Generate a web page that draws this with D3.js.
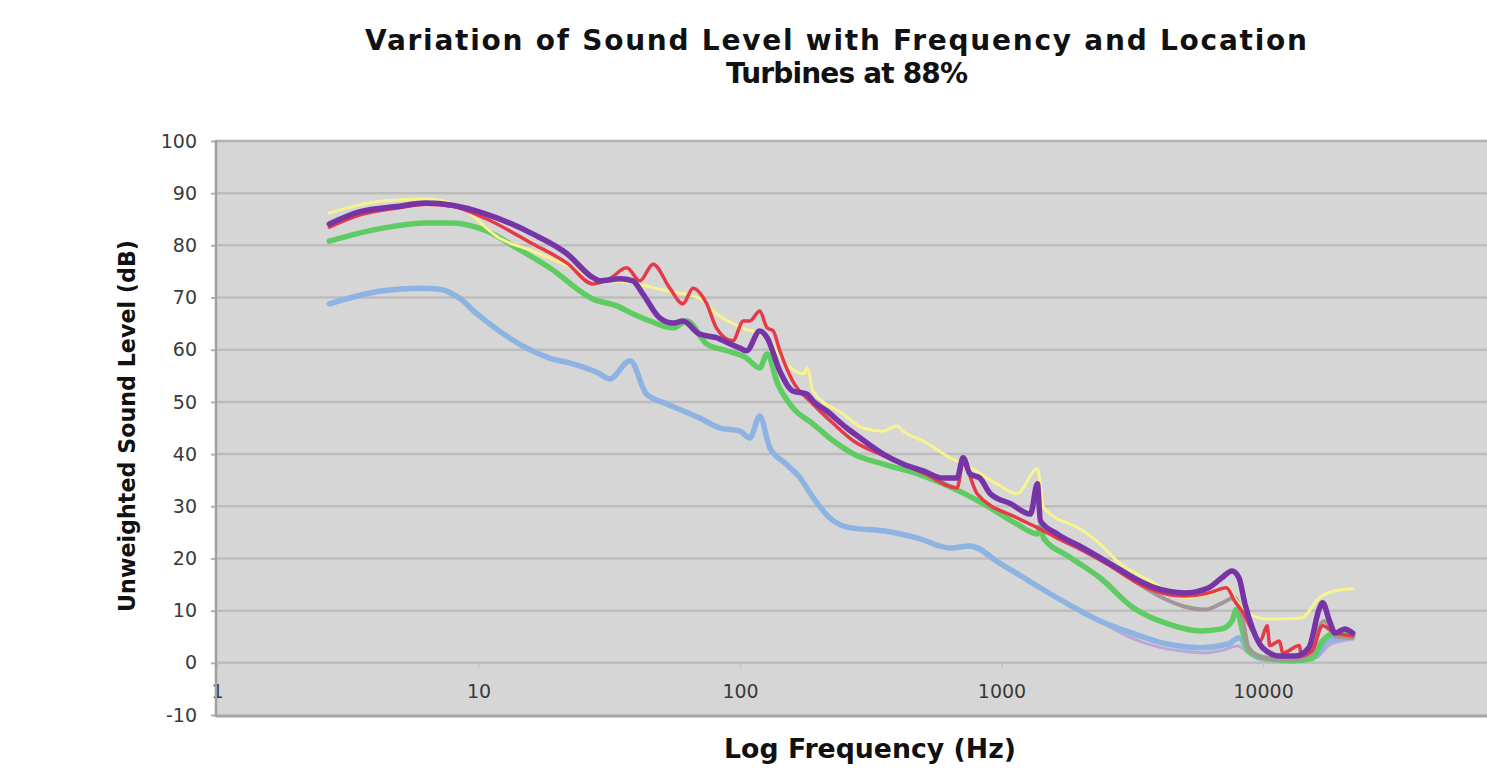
<!DOCTYPE html>
<html><head><meta charset="utf-8">
<script src="https://cdn.jsdelivr.net/npm/d3@7"></script>
<style>html,body{margin:0;padding:0;background:#fff;overflow:hidden}</style>
</head><body>
<svg id="chart" width="1487" height="775"></svg>
<script>
// ---------- data ----------
const titleLines = ["Variation of Sound Level with Frequency and Location", "Turbines at 88%"];
const xAxisTitle = "Log Frequency (Hz)";
const yAxisTitle = "Unweighted Sound Level (dB)";
const yTickValues = [-10, 0, 10, 20, 30, 40, 50, 60, 70, 80, 90, 100];
const xTickValues = [1, 10, 100, 1000, 10000, 100000];

// [frequency Hz, level dB]
const lightBlue = [[2.69,68.8],[4.29,71.3],[5.94,71.8],[7.09,71.6],[8.45,69.9],[9.85,66.9],[12.0,63.6],[15.3,60.3],[18.7,58.4],[22.9,57.3],[29.1,55.4],[31.7,54.4],[38.0,57.9],[43.9,51.5],[52.5,49.6],[60.5,48.3],[70.0,46.9],[83.9,45.0],[100,44.4],[109,43.1],[119,47.3],[130,41.2],[150,38.1],[170,35.4],[186,32.4],[220,27.8],[262,25.9],[353,25.3],[478,23.9],[636,22.0],[758,22.4],[990,19.0],[1218,16.3],[1330,15.1],[1790,11.3],[2380,8.0],[3200,5.6],[4300,3.6],[5780,2.9],[7380,3.6],[8090,4.8],[8810,2.3],[9960,0.8],[13000,0.4],[16000,1.3],[17600,4.2],[22050,5.0]];
const lavender = [[2380,8.0],[3000,5.2],[4000,3.0],[5000,2.2],[6000,1.9],[7000,2.4],[8000,3.2],[9000,1.5],[10000,0.5],[13000,0.3],[16000,1.0],[18000,3.5],[22050,4.5]];
const green = [[2.69,80.8],[4.29,83.3],[6.31,84.3],[7.94,84.3],[10.7,82.8],[14.0,79.5],[18.7,75.7],[27.4,69.7],[33.8,68.4],[38.9,66.9],[45.2,65.5],[55.4,64.2],[62.7,65.5],[74.6,61.1],[89.0,59.8],[106,58.4],[119,56.5],[127,59.2],[139,53.6],[159,48.9],[190,45.8],[228,42.5],[272,40.0],[353,38.1],[478,36.2],[598,34.3],[851,30.5],[1145,26.6],[1372,24.7],[1409,26.2],[1450,23.9],[1790,20.5],[2380,16.3],[3200,10.5],[4300,7.5],[5780,6.1],[6960,6.5],[7609,8.0],[7900,10.2],[8400,5.6],[8810,2.3],[9960,1.0],[13000,0.4],[15400,0.8],[16900,4.2],[19000,5.7],[22050,5.4]];
const yellow = [[2.69,86.2],[4.29,88.5],[6.31,88.9],[8.45,87.5],[12.0,81.4],[16.1,78.9],[22.9,75.7],[27.4,73.8],[38.9,72.8],[52.5,71.3],[70.0,69.9],[81.2,66.9],[102,64.2],[127,62.3],[150,57.3],[175,55.4],[181,56.5],[190,52.1],[248,47.7],[295,45.0],[353,44.4],[400,45.4],[420,44.4],[502,42.5],[636,39.3],[758,37.4],[960,34.3],[1145,32.4],[1372,37.2],[1450,29.7],[2051,25.3],[2380,22.8],[2770,19.5],[3700,15.7],[5017,12.5],[6205,13.2],[7380,14.4],[7780,12.5],[8810,9.4],[10520,8.4],[14000,8.6],[16450,12.5],[18860,13.8],[22050,14.2]];
const gray = [[3200,15.8],[4000,12.8],[5000,10.8],[6000,10.2],[7000,11.5],[7800,12.5],[8400,8.0],[8800,3.0],[10000,1.0],[13000,0.6],[15500,2.0],[16500,7.0],[17200,8.0],[19000,5.0],[22050,4.8]];
const red = [[2.69,83.5],[3.5,85.8],[4.97,87.2],[6.31,87.9],[7.94,87.5],[10.7,85.1],[16.1,80.3],[21.8,76.6],[27.4,72.6],[31.7,73.6],[36.9,75.7],[41.4,73.2],[46.5,76.4],[53.9,71.8],[60.5,68.8],[66.1,71.8],[74.6,68.8],[81.2,64.2],[93.9,61.7],[103,65.5],[109,65.5],[119,67.4],[127,64.2],[134,63.6],[142,59.8],[159,54.0],[190,49.6],[228,45.8],[272,42.5],[353,39.7],[502,36.4],[676,33.5],[713,38.3],[807,32.4],[1145,27.8],[1372,25.9],[1634,23.9],[2051,21.5],[2600,18.6],[3200,15.7],[3853,13.8],[5017,12.8],[6205,13.4],[7250,14.4],[7780,11.9],[8530,9.0],[9100,6.1],[9770,4.2],[10370,7.1],[10620,3.3],[11560,4.2],[11900,1.9],[13800,3.3],[14000,1.3],[15400,2.3],[16900,7.1],[18860,5.7],[22050,5.2]];
const purple = [[2.69,84.1],[3.5,86.4],[4.97,87.5],[6.31,88.1],[7.94,87.7],[10.7,86.0],[16.1,82.2],[21.8,78.4],[27.4,73.8],[29.1,73.2],[34.7,73.6],[38.9,73.2],[42.5,70.7],[49.3,66.1],[55.4,65.1],[60.5,65.5],[70.0,63.0],[81.2,62.3],[91.8,61.1],[100,60.3],[106,59.8],[119,63.6],[127,62.3],[142,55.9],[159,52.1],[180,51.5],[190,50.2],[214,48.3],[256,45.0],[288,43.1],[353,40.0],[420,38.1],[502,36.8],[598,35.4],[676,35.4],[713,39.3],[758,36.2],[827,35.4],[906,32.4],[1081,30.5],[1290,28.5],[1372,34.3],[1409,27.2],[1634,24.7],[2051,22.0],[2600,19.0],[3200,16.3],[3853,14.4],[5017,13.4],[6205,14.4],[6960,16.3],[7609,17.6],[8090,16.3],[8530,11.3],[9100,6.7],[9960,2.9],[11560,1.3],[13330,1.3],[14980,2.9],[16450,10.5],[16900,11.5],[17970,8.0],[18860,5.7],[20540,6.5],[22050,5.7]];

const seriesList = [
  {data: lavender,  color: "#bba8d8", width: 3},
  {data: lightBlue, color: "#8db3e2", width: 5.5},
  {data: green,     color: "#5fcc63", width: 5.5},
  {data: gray,      color: "#a39796", width: 4},
  {data: yellow,    color: "#f7f38e", width: 3},
  {data: red,       color: "#e63a48", width: 3.5},
  {data: purple,    color: "#7634a6", width: 5.5}
];

// ---------- layout ----------
const svg = d3.select("#chart");
const W = 1487, H = 775;
const plotLeft = 216, plotTop = 141, plotBottom = 715, plotRight = 1545;

const x = d3.scaleLog().domain([1, 100000]).range([217, 1524.5]);
const y = d3.scaleLinear().domain([-10, 100]).range([715, 141]);

svg.append("rect").attr("width", W).attr("height", H).attr("fill", "#fff");

svg.append("defs").append("clipPath").attr("id", "clip")
  .append("rect").attr("x", plotLeft).attr("y", plotTop).attr("width", plotRight - plotLeft).attr("height", plotBottom - plotTop);

svg.append("rect").attr("x", plotLeft).attr("y", plotTop)
  .attr("width", plotRight - plotLeft).attr("height", plotBottom - plotTop)
  .attr("fill", "#d6d6d6");

// gridlines
svg.append("g").selectAll("line").data(yTickValues.filter(v => v > -10))
  .join("line")
  .attr("x1", plotLeft).attr("x2", plotRight)
  .attr("y1", d => y(d)).attr("y2", d => y(d))
  .attr("stroke", d => d === 100 ? "#b2b2b2" : "#bdbdbd").attr("stroke-width", 2.5);

const font = "'DejaVu Sans', Verdana, sans-serif";

// y axis
const yAxis = svg.append("g").attr("transform", `translate(${plotLeft},0)`)
  .call(d3.axisLeft(y).tickValues(yTickValues).tickFormat(d => String(d)).tickSize(5).tickPadding(14));
yAxis.select(".domain").remove();
yAxis.selectAll(".tick line").attr("stroke", "#b0b0b0").attr("stroke-width", 2);
yAxis.selectAll(".tick text").attr("font-family", font)
  .attr("font-size", 19).attr("fill", "#3a3a3a");

// x axis (labels placed below the zero line, as in the original)
const xAxis = svg.append("g").attr("transform", `translate(0,${y(0)})`)
  .call(d3.axisBottom(x).tickValues(xTickValues).tickFormat(d => String(d)).tickSize(5).tickPadding(17));
xAxis.select(".domain").remove();
xAxis.selectAll(".tick line").attr("stroke", "#c4c4c4").attr("stroke-width", 1.5);
xAxis.selectAll(".tick text").attr("font-family", font)
  .attr("font-size", 19).attr("fill", "#3a3a3a");

// borders
svg.append("line").attr("x1", plotLeft).attr("x2", plotRight).attr("y1", plotBottom + 1).attr("y2", plotBottom + 1)
  .attr("stroke", "#a4a4a4").attr("stroke-width", 3);
svg.append("line").attr("x1", plotLeft).attr("x2", plotLeft).attr("y1", plotTop - 1).attr("y2", plotBottom + 2)
  .attr("stroke", "#a0a0a0").attr("stroke-width", 2.5);

// series
const line = d3.line().x(d => x(d[0])).y(d => y(d[1])).curve(d3.curveMonotoneX);
svg.append("g").attr("clip-path", "url(#clip)")
  .selectAll("path").data(seriesList).join("path")
  .attr("d", d => line(d.data))
  .attr("fill", "none")
  .attr("stroke", d => d.color)
  .attr("stroke-width", d => d.width)
  .attr("stroke-linejoin", "round").attr("stroke-linecap", "round");

// titles
function fitWidth(sel, target) {
  const w = sel.node().getComputedTextLength();
  const fs = parseFloat(sel.attr("font-size"));
  sel.attr("font-size", fs * target / w);
  return fs * target / w;
}
svg.append("text").attr("x", 836).attr("y", 40).attr("dy", "0.36em")
  .attr("text-anchor", "middle").attr("font-family", font).attr("font-weight", "bold")
  .attr("font-size", 28).attr("fill", "#111")
  .attr("textLength", 942).attr("lengthAdjust", "spacing").text(titleLines[0]);
svg.append("text").attr("x", 847).attr("y", 73).attr("dy", "0.36em")
  .attr("text-anchor", "middle").attr("font-family", font).attr("font-weight", "bold")
  .attr("font-size", 28).attr("fill", "#111")
  .attr("textLength", 242).attr("lengthAdjust", "spacing").text(titleLines[1]);

const yt = svg.append("text").attr("transform", "translate(127,426) rotate(-90)").attr("dy", "0.36em")
  .attr("text-anchor", "middle").attr("font-family", font).attr("font-weight", "bold")
  .attr("font-size", 20).attr("fill", "#111").text(yAxisTitle);
fitWidth(yt, 372);
const xt = svg.append("text").attr("x", 870).attr("y", 748).attr("dy", "0.36em")
  .attr("text-anchor", "middle").attr("font-family", font).attr("font-weight", "bold")
  .attr("font-size", 20).attr("fill", "#111").text(xAxisTitle);
fitWidth(xt, 292);
</script>
</body></html>
